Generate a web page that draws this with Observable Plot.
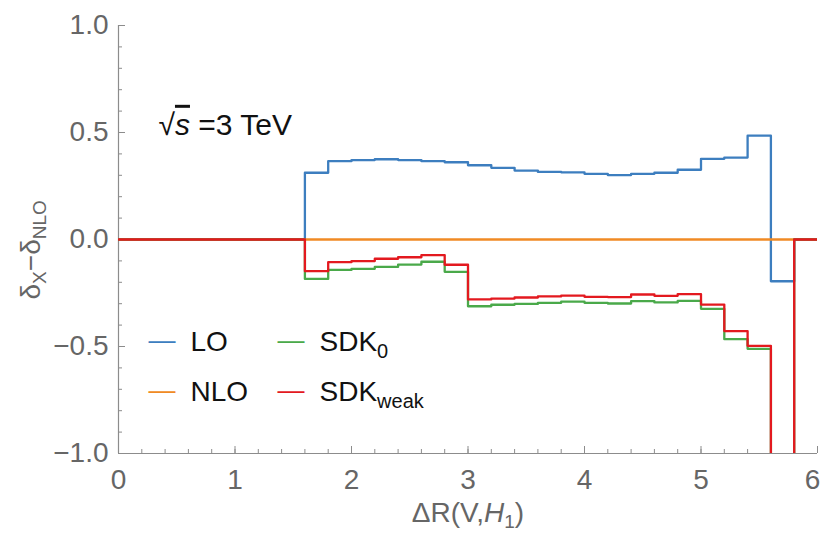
<!DOCTYPE html>
<html><head><meta charset="utf-8">
<script src="https://cdn.jsdelivr.net/npm/d3@7"></script>
<script src="https://cdn.jsdelivr.net/npm/@observablehq/plot@0.6"></script>
<style>
html,body{margin:0;padding:0;background:#fff;}
#chart{width:822px;height:534px;}
svg text{font-family:"Liberation Sans", Arial, sans-serif;}
</style></head><body><div id="chart"></div>
<script>
// ---- data ----
const seriesNames = ["LO", "NLO", "SDK0", "SDKweak"];
const seriesColors = ["#3d7ebf", "#f08a24", "#4aa94a", "#e3191f"];
const legendBase = ["LO", "NLO", "SDK", "SDK"];
const legendSub = ["", "", "0", "weak"];
const binEdges = [0, 1.6, 1.8, 2.0, 2.2, 2.4, 2.6, 2.8, 3.0, 3.2, 3.4, 3.6, 3.8, 4.0, 4.2, 4.4, 4.6, 4.8, 5.0, 5.2, 5.4, 5.6, 5.8, 6.0];
const valuesLO = [0, 0.312, 0.366, 0.371, 0.375, 0.371, 0.366, 0.361, 0.347, 0.335, 0.322, 0.316, 0.314, 0.307, 0.301, 0.307, 0.312, 0.326, 0.377, 0.383, 0.485, -0.195, 0, 0];
const valuesNLO = [0, 0, 0, 0, 0, 0, 0, 0, 0, 0, 0, 0, 0, 0, 0, 0, 0, 0, 0, 0, 0, 0, 0, 0];
const valuesSDK0 = [0, -0.184, -0.142, -0.137, -0.128, -0.117, -0.104, -0.151, -0.312, -0.305, -0.301, -0.296, -0.290, -0.296, -0.299, -0.288, -0.294, -0.287, -0.324, -0.466, -0.511, -1.6, 0, 0];
const valuesSDKweak = [0, -0.148, -0.106, -0.101, -0.090, -0.083, -0.073, -0.118, -0.280, -0.276, -0.271, -0.266, -0.262, -0.268, -0.269, -0.257, -0.263, -0.255, -0.304, -0.428, -0.497, -1.5, 0, 0];
const xMajorTicks = [0, 1, 2, 3, 4, 5, 6];
const yMajorTicks = [-1, -0.5, 0, 0.5, 1];
const xMinorTicks = d3.range(0, 6.001, 0.2);
const yMinorTicks = d3.range(-1, 1.001, 0.1);

// ---- build table ----
const seriesValues = [valuesLO, valuesNLO, valuesSDK0, valuesSDKweak];
const rows = [];
seriesNames.forEach((s, k) => binEdges.forEach((x, i) => rows.push({s, x, y: seriesValues[k][i]})));

// ---- styles ----
const axisGray = "#8c8c8c";
const labelGray = "#666666";
const font = "Liberation Sans, Arial, sans-serif";
const lastX = xMajorTicks[xMajorTicks.length - 1];

// legend layout (pixel offsets from the frame's top-left)
const legendMarks = [];
seriesNames.forEach((s, i) => {
  const col = Math.floor(i / 2), row = i % 2;
  const dx = 30 + col * 129, dy = 306 + row * 50;
  legendMarks.push(Plot.text([s], {frameAnchor: "top-left", dx, dy: dy - 2, text: () => "\u2014", fill: seriesColors[i], textAnchor: "start", fontSize: 27}));
  legendMarks.push(Plot.text([s], {frameAnchor: "top-left", dx: dx + 42, dy, text: () => "@@legend-" + s, fill: "#111", textAnchor: "start", fontSize: 28}));
});

const chart = Plot.plot({
  width: 822, height: 534,
  marginLeft: 118, marginRight: 5, marginTop: 25, marginBottom: 81,
  style: {fontFamily: font, fontSize: "28px", background: "#fff", overflow: "visible"},
  x: {domain: [0, 6]},
  y: {domain: [-1, 1]},
  color: {domain: seriesNames, range: seriesColors},
  marks: [
    Plot.axisX({ticks: xMinorTicks, tickSize: -4, tickFormat: () => "", stroke: axisGray, label: null}),
    Plot.axisX({ticks: xMajorTicks, tickSize: -7, tickPadding: 23, tickFormat: d => d === lastX ? "" : String(d), stroke: axisGray, fill: labelGray, fontSize: 28, label: null}),
    Plot.axisX({ticks: [lastX], tickSize: 0, tickPadding: 16, tickFormat: d => String(d), stroke: "none", fill: labelGray, fontSize: 28, label: null, dx: -5}),
    Plot.axisY({ticks: yMinorTicks, tickSize: -4, tickFormat: () => "", stroke: axisGray, label: null}),
    Plot.axisY({ticks: yMajorTicks, tickSize: -7, tickPadding: 17, tickFormat: d3.format(".1f"), stroke: axisGray, fill: labelGray, fontSize: 28, label: null}),
    Plot.ruleX([0], {stroke: axisGray, strokeWidth: 1.2}),
    Plot.ruleY([-1], {stroke: axisGray, strokeWidth: 1.2}),
    Plot.lineY(rows, {x: "x", y: "y", z: "s", stroke: "s", curve: "step-after", strokeWidth: 2.3, clip: true}),
    ...legendMarks,
    Plot.text(["sqrt"], {frameAnchor: "top-left", dx: 40, dy: 88, text: () => "@@sqrt-s", textAnchor: "start", fill: "#111", fontSize: 30}),
    Plot.text(["xtitle"], {frameAnchor: "bottom", dy: 68, text: () => "@@x-title", fill: labelGray, fontSize: 28}),
    Plot.text(["ytitle"], {frameAnchor: "left", dx: -87, dy: 60, rotate: -90, text: () => "@@y-title", fill: labelGray, fontSize: 28})
  ]
});
document.getElementById("chart").appendChild(chart);

// ---- rich text (italic / subscripts) ----
function richText(label, parts) {
  d3.select(chart).selectAll("text").filter(function() { return this.textContent === "@@" + label; }).each(function() {
    const t = d3.select(this);
    t.text(null);
    let shift = 0;
    for (const p of parts) {
      const ts = t.append("tspan").text(p.text);
      const s = p.sub || 0;
      if (s !== shift) { ts.attr("dy", s - shift); shift = s; }
      if (p.size) ts.attr("font-size", p.size);
      if (p.italic) ts.attr("font-style", "italic");
      if (p.over) ts.attr("text-decoration", "overline");
    }
  });
}
seriesNames.forEach((s, i) => {
  const parts = [{text: legendBase[i]}];
  if (legendSub[i]) parts.push({text: legendSub[i], sub: 7, size: 20});
  richText("legend-" + s, parts);
});
richText("sqrt-s", [{text: "\u221A"}, {text: "s", italic: true, over: true}, {text: " =3 TeV"}]);
richText("x-title", [{text: "\u0394R(V,"}, {text: "H", italic: true}, {text: "1", sub: 6, size: 19}, {text: ")"}]);
richText("y-title", [{text: "\u03B4"}, {text: "X", sub: 6, size: 19}, {text: "\u2212\u03B4"}, {text: "NLO", sub: 6, size: 19}]);
</script></body></html>
